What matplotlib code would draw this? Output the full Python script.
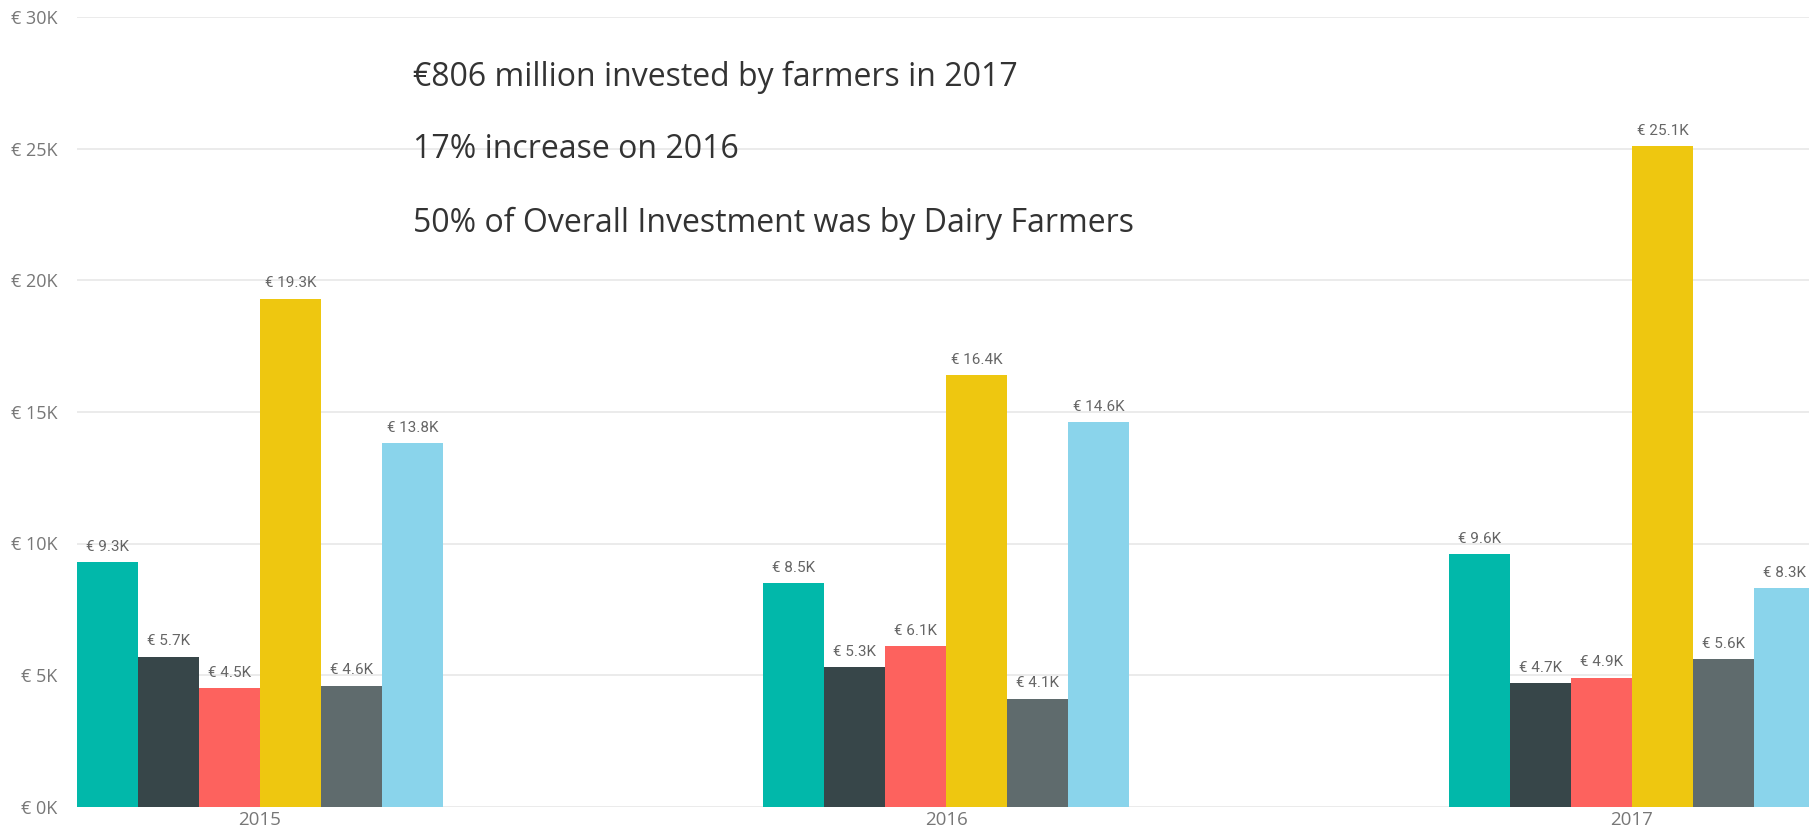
import matplotlib
matplotlib.use("Agg")
import matplotlib.pyplot as plt
import numpy as np

# ---- data ----
years = ["2015", "2016", "2017"]
series_names = ["S1", "S2", "S3", "S4", "S5", "S6"]
series_values = [
    [9.3, 8.5, 9.6],    # teal
    [5.7, 5.3, 4.7],    # dark slate
    [4.5, 6.1, 4.9],    # red
    [19.3, 16.4, 25.1], # yellow
    [4.6, 4.1, 5.6],    # gray
    [13.8, 14.6, 8.3],  # light blue
]
colors = ["#01B8AA", "#374649", "#FD625E", "#EEC710", "#5F6B6D", "#8AD4EB"]
y_ticks = [0, 5, 10, 15, 20, 25, 30]
y_tick_labels = ["€ 0K", "€ 5K", "€ 10K", "€ 15K", "€ 20K", "€ 25K", "€ 30K"]
notes = [
    "€806 million invested by farmers in 2017",
    "17% increase on 2016",
    "50% of Overall Investment was by Dairy Farmers",
]

W, H = 1809, 839
fig = plt.figure(figsize=(W / 100, H / 100), dpi=100)
fig.patch.set_facecolor("white")

left_px, right_px, top_px, bottom_px = 77, 1809, 17.1, 806.7
ax = fig.add_axes([left_px / W, (H - bottom_px) / H,
                   (right_px - left_px) / W, (bottom_px - top_px) / H])

x = np.arange(len(years))
bw = 0.0889
n = len(series_values)
for i, (vals, c) in enumerate(zip(series_values, colors)):
    pos = x + (i - (n - 1) / 2) * bw
    ax.bar(pos, vals, width=bw, color=c, zorder=2, linewidth=0)
    for xp, v in zip(pos, vals):
        ax.annotate(f"€ {v:.1f}K", (xp, v), xytext=(0, 6), textcoords="offset points",
                    ha="center", va="bottom", fontsize=11, color="#666666",
                    family="Roboto", clip_on=False)

ax.set_ylim(0, 30)
ax.set_xlim(-0.2668, 2.258)
ax.set_yticks(y_ticks)
ax.set_yticklabels(y_tick_labels, family="Open Sans", fontsize=13, color="#777777")
ax.set_xticks(x)
ax.set_xticklabels(years, family="Open Sans", fontsize=13.5, color="#777777")
ax.tick_params(axis="both", length=0)
ax.tick_params(axis="y", pad=14)
ax.tick_params(axis="x", pad=3)
ax.grid(axis="y", color="#E8E8E8", linewidth=1.2, zorder=0)
ax.set_axisbelow(True)
for s in ax.spines.values():
    s.set_visible(False)

for j, (t, yc) in enumerate(zip(notes, [77, 150, 223])):
    fig.text(413 / W, 1 - yc / H, t, ha="left", va="center", fontsize=23,
             family="Open Sans", color="#333333")

fig.savefig("out.png", dpi=100)
